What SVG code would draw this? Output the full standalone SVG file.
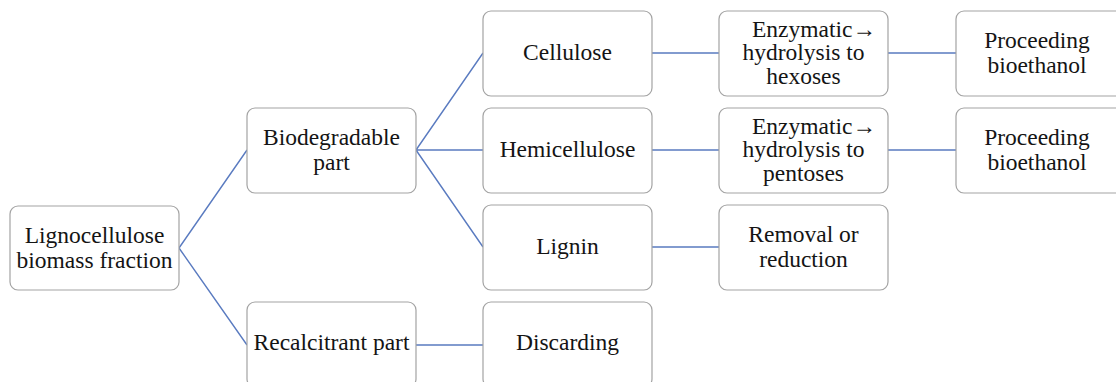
<svg xmlns="http://www.w3.org/2000/svg" width="1116" height="382" viewBox="0 0 1116 382">
<style>
.box{fill:#fff;stroke:#a3a3a3;stroke-width:1.2}
.t{font-family:"Liberation Serif","Times New Roman",serif;font-size:23.5px;fill:#141414;text-anchor:middle}
.c{stroke:#5a7bc0;stroke-width:1.4;fill:none}
</style>
<rect width="1116" height="382" fill="#fff"/>
<g id="connectors">
<path class="c" d="M179,248 L247,150 M179,248 L247,345 M416,150 L483,53 M416,150 L483,150 M416,150 L483,247 M416,345 L483,345 M652,53 L719,53 M652,150 L719,150 M652,247 L719,247 M888,53 L956,53 M888,150 L956,150"/>
</g>
<g id="lignocellulose"><rect class="box" x="10" y="206" width="169" height="84" rx="8"/><text class="t" x="94.5" y="243">Lignocellulose</text><text class="t" x="94.5" y="268">biomass fraction</text></g>
<g id="biodegradable"><rect class="box" x="247" y="108" width="169" height="85" rx="8"/><text class="t" x="331.5" y="145">Biodegradable</text><text class="t" x="331.5" y="170">part</text></g>
<g id="recalcitrant"><rect class="box" x="247" y="302" width="169" height="85" rx="8"/><text class="t" x="331.5" y="350">Recalcitrant part</text></g>
<g id="cellulose"><rect class="box" x="483" y="11" width="169" height="85" rx="8"/><text class="t" x="567.5" y="59.5">Cellulose</text></g>
<g id="hemicellulose"><rect class="box" x="483" y="108" width="169" height="85" rx="8"/><text class="t" x="567.5" y="156.5">Hemicellulose</text></g>
<g id="lignin"><rect class="box" x="483" y="205" width="169" height="85" rx="8"/><text class="t" x="567.5" y="253.5">Lignin</text></g>
<g id="discarding"><rect class="box" x="483" y="302" width="169" height="85" rx="8"/><text class="t" x="567.5" y="350">Discarding</text></g>
<g id="enzymatic-hexoses"><rect class="box" x="719" y="11" width="169" height="85" rx="8"/><text class="t" x="814" y="37">Enzymatic→</text><text class="t" x="803.5" y="60">hydrolysis to</text><text class="t" x="803.5" y="84">hexoses</text></g>
<g id="enzymatic-pentoses"><rect class="box" x="719" y="108" width="169" height="85" rx="8"/><text class="t" x="814" y="134">Enzymatic→</text><text class="t" x="803.5" y="157">hydrolysis to</text><text class="t" x="803.5" y="181">pentoses</text></g>
<g id="removal"><rect class="box" x="719" y="205" width="169" height="85" rx="8"/><text class="t" x="803.5" y="241.5">Removal or</text><text class="t" x="803.5" y="266.5">reduction</text></g>
<g id="proceeding-1"><rect class="box" x="956" y="11" width="169" height="85" rx="8"/><text class="t" x="1037" y="47.5">Proceeding</text><text class="t" x="1037" y="72.5">bioethanol</text></g>
<g id="proceeding-2"><rect class="box" x="956" y="108" width="169" height="85" rx="8"/><text class="t" x="1037" y="144.5">Proceeding</text><text class="t" x="1037" y="169.5">bioethanol</text></g>
</svg>
